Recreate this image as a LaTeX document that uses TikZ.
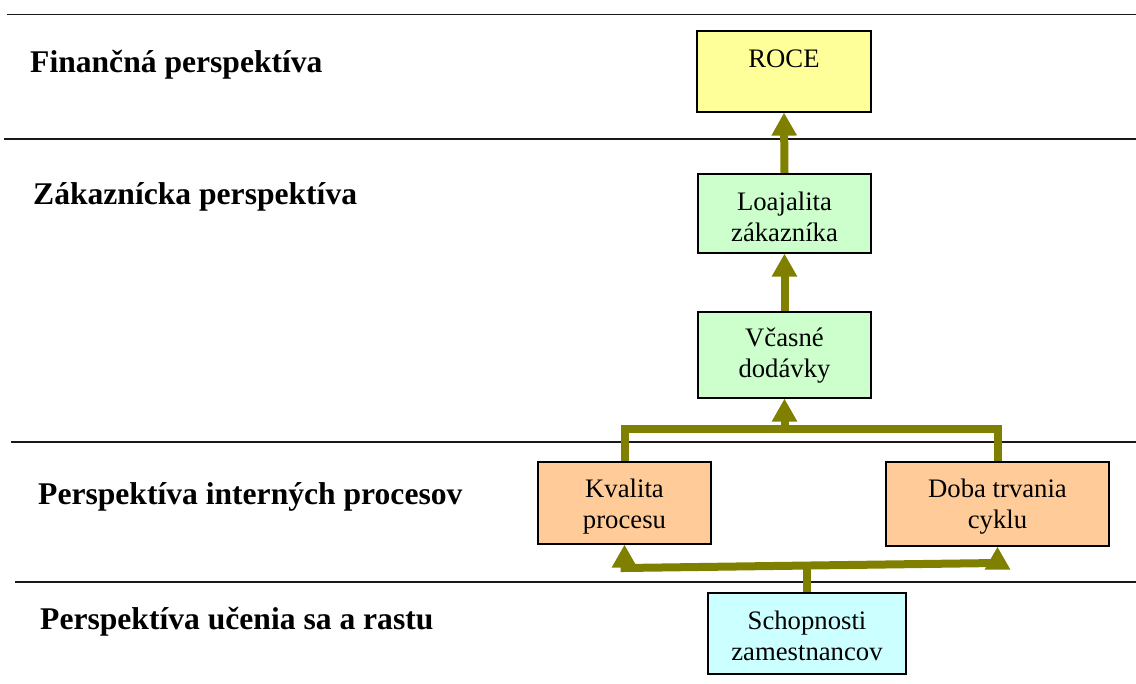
\documentclass[tikz,border=0pt]{standalone}
\usepackage{fontspec}
\setmainfont{Liberation Serif}
\usetikzlibrary{arrows.meta}

\definecolor{connolive}{HTML}{808000}
\definecolor{finyellow}{HTML}{FFFF99}
\definecolor{custgreen}{HTML}{CCFFCC}
\definecolor{procorange}{HTML}{FFCC99}
\definecolor{learncyan}{HTML}{CCFFFF}

\tikzset{
  layerline/.style={draw=black!90, line width=1.7pt},
  layertitle/.style={anchor=base west, inner sep=0pt,
    font=\bfseries\fontsize{31.6}{38}\selectfont},
  goalbox/.style={draw=black, line width=1.6pt, rectangle, inner sep=0pt,
    anchor=north, align=center, font=\fontsize{26.7}{31}\selectfont},
  conn/.style={draw=connolive, line width=8pt, line join=miter},
  connarrow/.style={conn, -{Triangle[width=24pt,length=23pt]}},
}

\begin{document}
\begin{tikzpicture}[x=1pt, y=-1pt]
  \useasboundingbox (0,0) rectangle (1136,684);

  % separators between the perspectives
  \draw[layerline] (7,14.5) -- (1136,14.5);
  \draw[layerline] (4,139) -- (1136,139);
  \draw[layerline] (11,442) -- (1136,442);
  \draw[layerline] (15,582) -- (1136,582);

  % perspective titles
  \node[layertitle] (tfin)  at (30,73)  {Finančná perspektíva};
  \node[layertitle] (tcust) at (33,205) {Zákaznícka perspektíva};
  \node[layertitle] (tproc) at (38,505) {Perspektíva interných procesov};
  \node[layertitle] (tlrn)  at (40,629) {Perspektíva učenia sa a rastu};

  % goals
  \node[goalbox, fill=finyellow, minimum width=174pt, text height=37pt, text depth=44pt]
    (roce) at (784,30) {ROCE};
  \node[goalbox, fill=custgreen, minimum width=173pt, text height=68pt, text depth=11pt]
    (loy) at (784.5,173) {Loajalita\\zákazníka};
  \node[goalbox, fill=custgreen, minimum width=173pt, text height=66pt, text depth=20pt]
    (del) at (784.5,311) {Včasné\\dodávky};
  \node[goalbox, fill=procorange, minimum width=173pt, text height=67pt, text depth=15pt]
    (qual) at (624.5,461) {Kvalita\\procesu};
  \node[goalbox, fill=procorange, minimum width=223pt, text height=67pt, text depth=17pt]
    (cyc) at (997.5,461) {Doba trvania\\cyklu};
  \node[goalbox, fill=learncyan, minimum width=198pt, text height=68pt, text depth=13pt]
    (skill) at (807,592) {Schopnosti\\zamestnancov};

  % junction points of the branching connectors
  \coordinate (topjoin) at (784.5,429);
  \coordinate (botjoin) at (807,568);
  \coordinate (botleft) at (624.5,568);
  \coordinate (botright) at (997.5,563);

  % cause-and-effect links
  \draw[connarrow] (loy.north) -- (roce.south);
  \draw[connarrow] (del.north) -- (loy.south);
  \draw[conn] (qual.north) |- (topjoin) -| (cyc.north);
  \draw[connarrow] (topjoin) -- (del.south);
  \draw[conn] (skill.north) -- (botjoin);
  \draw[conn, {Triangle[width=24pt,length=23pt]}-{Triangle[width=24pt,length=23pt]}]
    (qual.south) -- (botleft) -- (botright) -- (cyc.south);
\end{tikzpicture}
\end{document}
